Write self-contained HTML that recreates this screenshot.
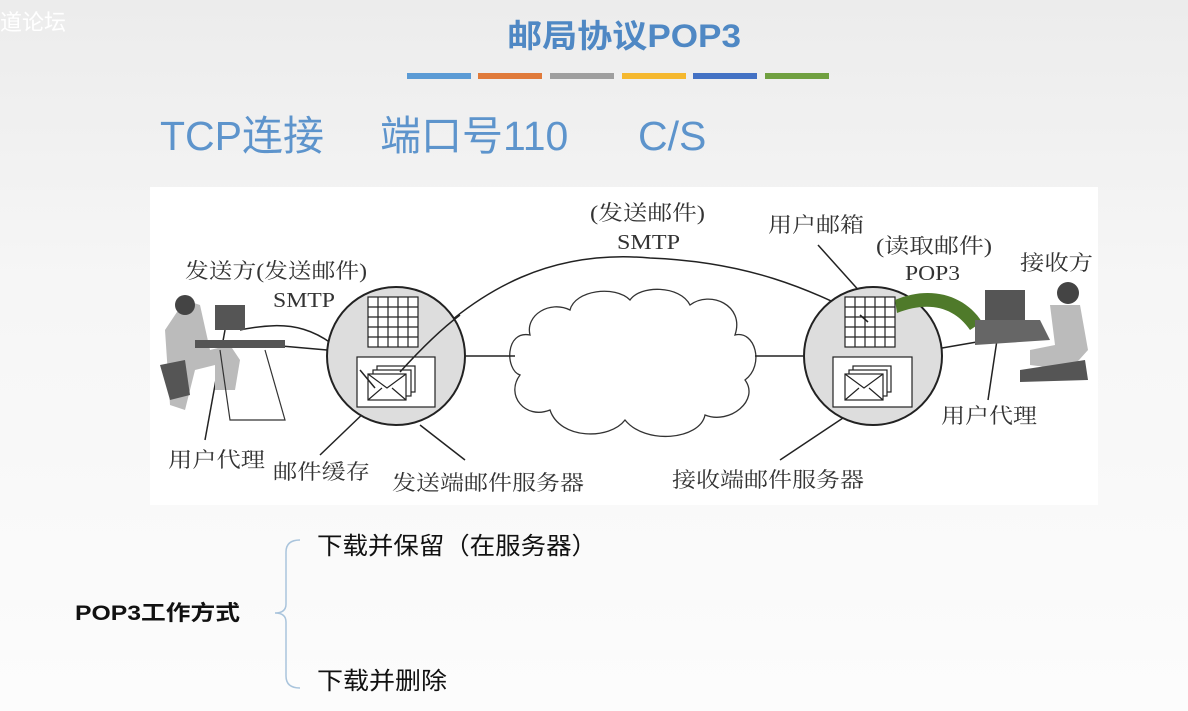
<!DOCTYPE html>
<html><head><meta charset="utf-8"><style>
html,body{margin:0;padding:0;width:1188px;height:711px;overflow:hidden;background:linear-gradient(#ececec,#f6f6f6 40%,#fcfcfc);font-family:"Liberation Sans","Noto Sans CJK SC",sans-serif;}
</style></head><body>
<svg width="1188" height="711" xmlns="http://www.w3.org/2000/svg" style="position:absolute;left:0;top:0">
<text x="0" y="30" font-size="22" fill="#fff" font-family="Noto Sans CJK SC,sans-serif">道论坛</text>
<text x="624" y="47" text-anchor="middle" font-size="32" font-weight="bold" fill="#4f88c4" font-family="Liberation Sans,Noto Sans CJK SC,sans-serif" textLength="234" lengthAdjust="spacingAndGlyphs">邮局协议POP3</text>
<g>
<rect x="407" y="73" width="64" height="6" fill="#5b9bd5"/>
<rect x="478" y="73" width="64" height="6" fill="#e07a3a"/>
<rect x="550" y="73" width="64" height="6" fill="#9e9e9e"/>
<rect x="622" y="73" width="64" height="6" fill="#f5b82e"/>
<rect x="693" y="73" width="64" height="6" fill="#4472c4"/>
<rect x="765" y="73" width="64" height="6" fill="#70a040"/>
</g>
<text x="160" y="150" font-size="41" fill="#5d94cc" font-family="Liberation Sans,Noto Sans CJK SC,sans-serif">TCP连接<tspan x="380">端口号110</tspan><tspan x="638">C/S</tspan></text>

<rect x="150" y="187" width="948" height="318" fill="#fff"/>
<g font-family="Liberation Serif,Noto Serif CJK SC,serif" font-size="21" fill="#333">
<text x="185" y="278" textLength="182" lengthAdjust="spacingAndGlyphs">发送方(发送邮件)</text>
<text x="273" y="307" textLength="62" lengthAdjust="spacingAndGlyphs">SMTP</text>
<text x="590" y="220" textLength="115" lengthAdjust="spacingAndGlyphs">(发送邮件)</text>
<text x="617" y="249" textLength="63" lengthAdjust="spacingAndGlyphs">SMTP</text>
<text x="768" y="232" textLength="96" lengthAdjust="spacingAndGlyphs">用户邮箱</text>
<text x="876" y="253" textLength="116" lengthAdjust="spacingAndGlyphs">(读取邮件)</text>
<text x="905" y="280" textLength="55" lengthAdjust="spacingAndGlyphs">POP3</text>
<text x="1020" y="270" textLength="73" lengthAdjust="spacingAndGlyphs">接收方</text>
<text x="598" y="376" textLength="70" lengthAdjust="spacingAndGlyphs">因特网</text>
<text x="168" y="467" textLength="97" lengthAdjust="spacingAndGlyphs">用户代理</text>
<text x="273" y="479" textLength="97" lengthAdjust="spacingAndGlyphs">邮件缓存</text>
<text x="392" y="490" textLength="192" lengthAdjust="spacingAndGlyphs">发送端邮件服务器</text>
<text x="672" y="487" textLength="192" lengthAdjust="spacingAndGlyphs">接收端邮件服务器</text>
<text x="941" y="423" textLength="96" lengthAdjust="spacingAndGlyphs">用户代理</text>
</g>
<g fill="#fff" stroke="#333" stroke-width="1.3">
<path d="M530,335 C505,330 505,370 520,375 C505,395 525,420 550,410 C560,440 610,440 625,420 C645,445 700,440 705,415 C730,425 760,400 745,380 C765,365 755,330 735,335 C745,305 710,290 690,305 C680,285 640,285 630,300 C615,285 575,290 570,310 C550,300 525,315 530,335 Z"/>
</g>
<g stroke="#222" stroke-width="1.5" fill="none">
<line x1="270" y1="345" x2="327" y2="350"/>
<line x1="465" y1="356" x2="515" y2="356"/>
<line x1="755" y1="356" x2="803" y2="356"/>
<line x1="942" y1="348" x2="1000" y2="338"/>
<path d="M240,330 C290,320 320,325 360,370"/>
<path d="M400,370 C480,280 560,250 650,258 C750,262 810,290 860,315"/>
<line x1="205" y1="440" x2="225" y2="330"/>
<line x1="320" y1="455" x2="370" y2="407"/>
<line x1="420" y1="425" x2="465" y2="460"/>
<line x1="780" y1="460" x2="855" y2="410"/>
<line x1="818" y1="245" x2="862" y2="294"/>
<line x1="988" y1="400" x2="1000" y2="320"/>
</g>
<circle cx="396" cy="356" r="69" fill="#ddd" stroke="#222" stroke-width="2"/>
<circle cx="873" cy="356" r="69" fill="#ddd" stroke="#222" stroke-width="2"/>
<g stroke="#222" stroke-width="1.2" fill="#fff">
<rect x="368" y="297" width="50" height="50"/>
<rect x="845" y="297" width="50" height="50"/>
<path d="M378,297V347M388,297V347M398,297V347M408,297V347M368,307H418M368,317H418M368,327H418M368,337H418" fill="none"/>
<path d="M855,297V347M865,297V347M875,297V347M885,297V347M845,307H895M845,317H895M845,327H895M845,337H895" fill="none"/>
<rect x="357" y="357" width="78" height="50"/>
<rect x="833" y="357" width="79" height="50"/>
<rect x="377" y="366" width="38" height="26"/><rect x="373" y="370" width="38" height="26"/><rect x="368" y="374" width="38" height="26"/>
<path d="M368,374L387,388L406,374" fill="none"/><path d="M368,400L382,388M406,400L392,388" fill="none"/>
<rect x="853" y="366" width="38" height="26"/><rect x="849" y="370" width="38" height="26"/><rect x="845" y="374" width="38" height="26"/>
<path d="M845,374L864,388L883,374" fill="none"/><path d="M845,400L859,388M883,400L869,388" fill="none"/>
</g>
<g stroke="#222" stroke-width="1.5" fill="none">
<path d="M360,370 L375,388"/><path d="M400,372 C420,350 440,330 460,315"/>
<path d="M860,315 L868,322"/>
</g>
<path d="M895,300 C930,285 965,295 982,322 L970,330 C955,308 930,300 897,313 Z" fill="#4f7a2a"/>
<g fill="#777">
<rect x="215" y="305" width="30" height="25" fill="#555"/>
<path d="M165,330 L185,300 L200,305 L210,350 L230,345 L240,360 L235,390 L215,390 L215,365 L195,370 L185,410 L170,405 Z" fill="#bbb"/>
<circle cx="185" cy="305" r="10" fill="#444"/>
<rect x="195" y="340" width="90" height="8" fill="#555"/>
<path d="M160,365 L185,360 L190,395 L170,400 Z" fill="#555"/>
<path d="M220,350 L230,420 L285,420 L265,350" fill="none" stroke="#333" stroke-width="1.2"/>
<rect x="985" y="290" width="40" height="30" fill="#555"/>
<path d="M975,320 L1040,320 L1050,340 L975,345 Z" fill="#666"/>
<circle cx="1068" cy="293" r="11" fill="#444"/>
<path d="M1050,305 L1080,305 L1088,350 L1070,370 L1030,365 L1030,350 L1055,345 Z" fill="#bbb"/>
<path d="M1020,370 L1085,360 L1088,380 L1020,382 Z" fill="#555"/>
</g>
<g font-family="Liberation Sans,Noto Sans CJK SC,sans-serif" fill="#111">
<text x="75" y="620" font-size="21" font-weight="bold" textLength="165" lengthAdjust="spacingAndGlyphs">POP3工作方式</text>
<text x="317" y="554" font-size="24" textLength="280" lengthAdjust="spacingAndGlyphs">下载并保留（在服务器）</text>
<text x="317" y="689" font-size="24" textLength="130" lengthAdjust="spacingAndGlyphs">下载并删除</text>
</g>
<path d="M300,540 Q286,540 286,552 L286,604 Q286,613 275,613 Q286,613 286,622 L286,676 Q286,688 300,688" fill="none" stroke="#a9c4dc" stroke-width="1.5"/>
</svg>
</body></html>
